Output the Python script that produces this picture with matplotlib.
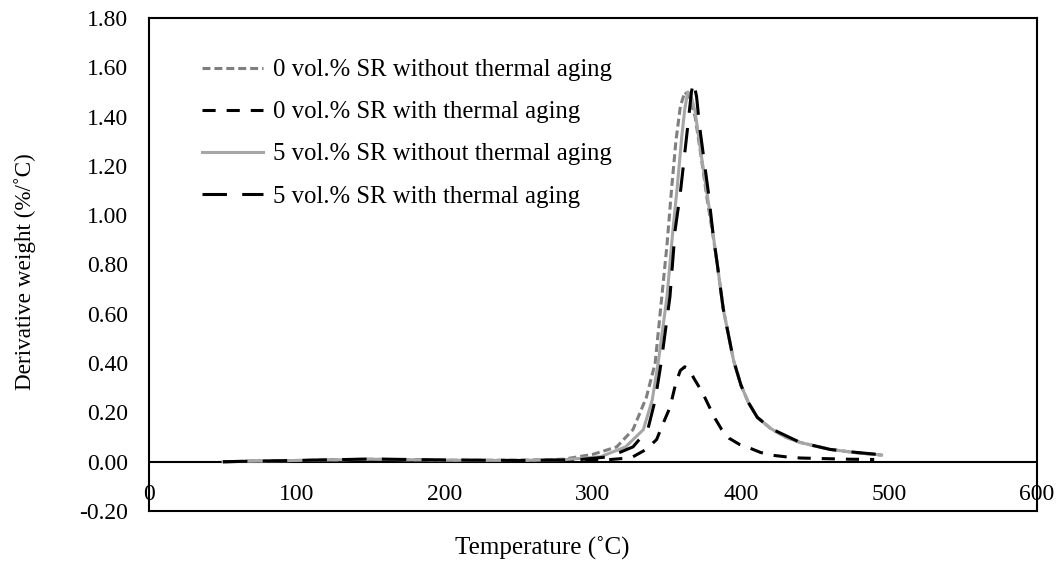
import numpy as np
import matplotlib.pyplot as plt

plt.rcParams['font.family'] = ['Liberation Serif', 'DejaVu Serif']

# 0 vol.% SR without thermal aging
t_a = [50, 100, 150, 200, 250, 280, 300, 316, 327, 336, 342, 346.5, 350, 353, 356, 359,
       362, 365, 369, 373, 377, 381, 384, 388, 391, 395, 400, 405, 411, 420, 430, 440,
       460, 480, 495]
d_a = [0.0, 0.005, 0.010, 0.006, 0.006, 0.010, 0.030, 0.060, 0.13, 0.26, 0.40, 0.67, 0.88,
       1.10, 1.30, 1.44, 1.50, 1.48, 1.40, 1.24, 1.07, 0.92, 0.80, 0.62, 0.53, 0.41, 0.31,
       0.24, 0.18, 0.135, 0.10, 0.078, 0.05, 0.035, 0.027]

# 0 vol.% SR with thermal aging
t_b = [50, 100, 150, 200, 250, 290, 310, 320, 327, 336, 343, 347, 352, 356, 359, 362, 365,
       368, 371, 374, 378, 382, 387, 392, 399, 406, 413, 420, 430, 440, 460, 474, 490]
d_b = [0.0, 0.004, 0.008, 0.005, 0.004, 0.004, 0.008, 0.013, 0.02, 0.05, 0.09, 0.15, 0.22,
       0.32, 0.37, 0.385, 0.375, 0.34, 0.31, 0.28, 0.23, 0.18, 0.13, 0.095, 0.07, 0.055,
       0.038, 0.027, 0.02, 0.015, 0.012, 0.010, 0.009]

# 5 vol.% SR without thermal aging
t_c = [50, 100, 150, 200, 250, 280, 305, 322, 334, 340, 344, 350, 354, 357, 360, 362, 364,
       366, 369, 373, 377, 381, 384, 388, 391, 395, 400, 405, 411, 420, 430, 440, 460, 480,
       495]
d_c = [0.0, 0.005, 0.010, 0.006, 0.005, 0.008, 0.020, 0.060, 0.13, 0.25, 0.40, 0.67, 0.94,
       1.12, 1.32, 1.43, 1.50, 1.49, 1.42, 1.25, 1.09, 0.93, 0.80, 0.62, 0.53, 0.41, 0.31,
       0.24, 0.18, 0.135, 0.10, 0.078, 0.05, 0.035, 0.027]

# 5 vol.% SR with thermal aging
t_d = [50, 100, 150, 200, 250, 290, 311, 327, 337, 342, 346, 352, 355.5, 359, 364, 366.5,
       368, 370, 372, 378, 381, 384, 388, 391, 395, 400, 405, 411, 420, 440, 460, 474, 495]
d_d = [0.0, 0.005, 0.011, 0.007, 0.005, 0.008, 0.020, 0.060, 0.13, 0.25, 0.40, 0.67, 0.94,
       1.09, 1.36, 1.50, 1.54, 1.48, 1.36, 1.09, 0.93, 0.80, 0.62, 0.53, 0.41, 0.31, 0.24,
       0.18, 0.135, 0.078, 0.05, 0.04, 0.028]

labels = ["0 vol.% SR without thermal aging", "0 vol.% SR with thermal aging",
          "5 vol.% SR without thermal aging", "5 vol.% SR with thermal aging"]

xticks = [0, 100, 200, 300, 400, 500, 600]
yticks = [-0.2, 0.0, 0.2, 0.4, 0.6, 0.8, 1.0, 1.2, 1.4, 1.6, 1.8]

fig = plt.figure(figsize=(10.64, 5.67), dpi=100)
ax = fig.add_axes([149/1064, 1-511/567, (1037-149)/1064, (511-18)/567])

lw = 2.2
ax.plot(t_a, d_a, color='#7f7f7f', lw=lw, dashes=(2.6, 1.3), label=labels[0])
ax.plot(t_b, d_b, color='black', lw=lw, dashes=(4.3, 3.6), label=labels[1])
ax.plot(t_c, d_c, color='#a6a6a6', lw=lw, label=labels[2])
ax.plot(t_d, d_d, color='black', lw=lw, dashes=(8, 5), label=labels[3])

ax.axhline(0, color='black', lw=1.5, zorder=1)

ax.set_xlim(0, 600)
ax.set_ylim(-0.2, 1.8)
ax.set_xticks(xticks)
ax.set_yticks(yticks)
ax.set_yticklabels([f"{v:.2f}" for v in yticks])
ax.tick_params(axis='both', length=0, labelsize=17)
ax.tick_params(axis='y', pad=15)
ax.tick_params(axis='x', pad=-19.5)
for s in ax.spines.values():
    s.set_linewidth(1.5)

fig.text(542/1064, 1-548/567, "Temperature (˚C)", ha='center', va='center', fontsize=18)
fig.text(25/1064, 1-272/567, "Derivative weight (%/˚C)", ha='center', va='center',
         rotation=90, fontsize=16.7)

ax.legend(loc='upper left', bbox_to_anchor=(202/1064, 1-59/567),
          bbox_transform=fig.transFigure, frameon=False, fontsize=17.8,
          borderpad=0, borderaxespad=0, handlelength=2.45, handletextpad=0.42,
          labelspacing=0.8)

fig.savefig('out.png', dpi=100)
